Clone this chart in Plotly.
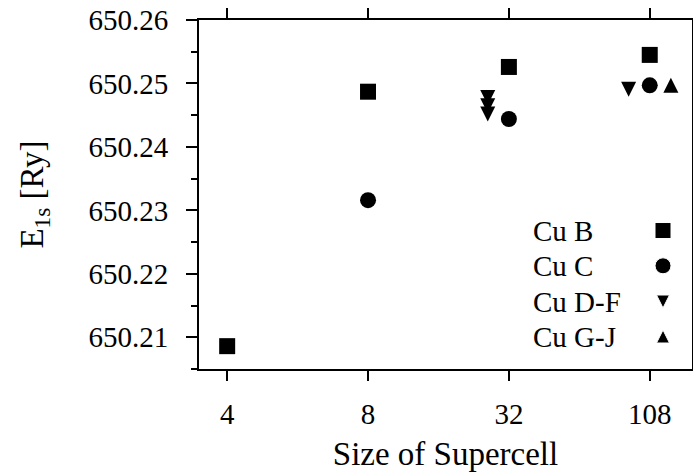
import plotly.graph_objects as go

# Supercell sizes shown as evenly spaced categories
sizes = ["4", "8", "32", "108"]

# 1s core-level energies (Ry) for each Cu site group
cu_b_size = ["4", "8", "32", "108"]
cu_b_e1s = [650.2086, 650.2487, 650.2526, 650.2545]

cu_c_size = ["8", "32", "108"]
cu_c_e1s = [650.2316, 650.2444, 650.2497]

cu_df_size = ["32", "32", "32", "108"]
cu_df_e1s = [650.2478, 650.2465, 650.2452, 650.2491]

cu_gj_size = ["108"]
cu_gj_e1s = [650.2497]

legend_names = ["Cu B", "Cu C", "Cu D-F", "Cu G-J"]

FONT = "Liberation Serif, Times New Roman, Times, serif"
TICK_FS = 29
TITLE_FS = 33
DODGE = 0.15  # horizontal shift of the triangle groups


def xpos(cats, shift=0.0):
    return [sizes.index(c) + shift for c in cats]


fig = go.Figure()

fig.add_trace(go.Scatter(
    x=xpos(cu_b_size), y=cu_b_e1s, mode="markers", name="Cu B",
    marker=dict(symbol="square", size=16, color="black", opacity=1)))
fig.add_trace(go.Scatter(
    x=xpos(cu_c_size), y=cu_c_e1s, mode="markers", name="Cu C",
    marker=dict(symbol="circle", size=16, color="black", opacity=1)))
fig.add_trace(go.Scatter(
    x=xpos(cu_df_size, -DODGE), y=cu_df_e1s, mode="markers", name="Cu D-F",
    marker=dict(symbol="arrow-down", size=15, standoff=7.5, color="black",
                opacity=1)))
fig.add_trace(go.Scatter(
    x=xpos(cu_gj_size, DODGE), y=cu_gj_e1s, mode="markers", name="Cu G-J",
    marker=dict(symbol="arrow-down", angle=180, size=15, standoff=7.5,
                color="black", opacity=1)))

# Key drawn inside the frame: label on the left, symbol on the right
key_x_text = 0.6755
key_x_sym = 0.9412
key_y = [0.3968, 0.2957, 0.1934, 0.0931]
fig.add_trace(go.Scatter(
    x=[key_x_sym] * 4, y=key_y, mode="markers", xaxis="x2", yaxis="y2",
    hoverinfo="skip",
    marker=dict(symbol=["square", "circle", "arrow-down", "arrow-down"],
                size=[16, 16, 13, 13], angle=[0, 0, 0, 180],
                standoff=[0, 0, 6.5, 6.5], color="black", opacity=1)))
for name, yy in zip(legend_names, key_y):
    fig.add_annotation(
        x=key_x_text, y=yy, xref="paper", yref="paper", text=name,
        showarrow=False, xanchor="left", yanchor="middle", borderpad=0,
        font=dict(family=FONT, size=TICK_FS, color="black"))

axis_common = dict(
    showline=True, linecolor="black", linewidth=2, mirror="ticks",
    ticks="outside", tickcolor="black", tickwidth=2,
    showgrid=False, zeroline=False, automargin=False,
    tickfont=dict(family=FONT, size=TICK_FS, color="black"),
)

fig.update_layout(
    template="none",
    width=693, height=472,
    margin=dict(l=199, r=1, t=20, b=103),
    paper_bgcolor="white", plot_bgcolor="white",
    showlegend=False,
    font=dict(family=FONT, color="black"),
    xaxis=dict(
        axis_common, range=[-0.2, 3.3], tickmode="array",
        tickvals=list(range(len(sizes))), ticktext=sizes, ticklen=10,
        ticklabelstandoff=8,
        title=dict(text="Size of Supercell", standoff=28,
                   font=dict(family=FONT, size=TITLE_FS, color="black")),
    ),
    yaxis=dict(
        axis_common, range=[650.205, 650.26], tick0=650.21, dtick=0.01,
        tickformat=".2f", ticklen=11, ticklabelstandoff=12,
        minor=dict(dtick=0.005, tick0=650.205, ticks="outside", ticklen=6,
                   tickwidth=2, tickcolor="black", showgrid=False),
        title=dict(text="E<sub>1s</sub> [Ry]", standoff=35,
                   font=dict(family=FONT, size=TITLE_FS, color="black")),
    ),
    xaxis2=dict(overlaying="x", range=[0, 1], visible=False),
    yaxis2=dict(overlaying="y", range=[0, 1], visible=False),
)

fig.write_html("out.html")
